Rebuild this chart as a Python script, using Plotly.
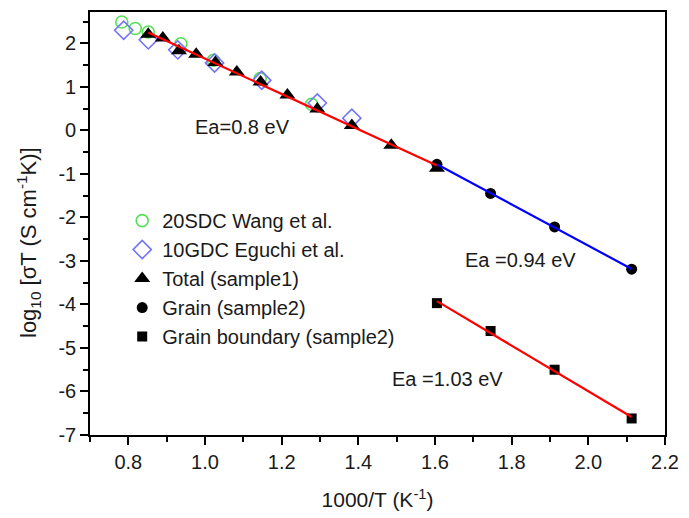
import numpy as np
import plotly.graph_objects as go

# Literature data
wang_x = [0.783, 0.818, 0.852, 0.937, 1.022, 1.144, 1.278]
wang_y = [2.49, 2.34, 2.26, 1.99, 1.61, 1.19, 0.60]
eguchi_x = [0.788, 0.852, 0.929, 1.025, 1.148, 1.293, 1.383]
eguchi_y = [2.30, 2.08, 1.85, 1.55, 1.15, 0.63, 0.28]

# Total conductivity, sample 1
total_x = [0.852, 0.890, 0.932, 0.977, 1.027, 1.083, 1.145, 1.215, 1.293, 1.383, 1.486, 1.605]
total_y = [2.21, 2.12, 1.83, 1.75, 1.56, 1.34, 1.11, 0.81, 0.49, 0.11, -0.34, -0.87]

# Grain and grain boundary, sample 2
s2_x = [1.605, 1.745, 1.912, 2.113]
grain_y = [-0.78, -1.45, -2.22, -3.19]
gb_y = [-3.97, -4.61, -5.50, -6.62]

# Axis tick values and labels (plain hyphen minus)
y_ticks = [-7, -6, -5, -4, -3, -2, -1, 0, 1, 2]
y_ticktext = ["-7", "-6", "-5", "-4", "-3", "-2", "-1", "0", "1", "2"]

FONT = "Liberation Sans, Arial, sans-serif"
TXT = "#1a1a1a"

fig = go.Figure()

fig.add_trace(go.Scatter(
    x=wang_x, y=wang_y, mode="markers", name="20SDC Wang et al.",
    marker=dict(symbol="circle-open", size=12, color="#55e055", line=dict(width=1.6))))
fig.add_trace(go.Scatter(
    x=eguchi_x, y=eguchi_y, mode="markers", name="10GDC Eguchi et al.",
    marker=dict(symbol="diamond-open", size=14, color="#7575f5", line=dict(width=1.6))))
fig.add_trace(go.Scatter(
    x=total_x, y=total_y, mode="markers", name="Total (sample1)",
    marker=dict(symbol="triangle-up", size=14, color="black")))
fig.add_trace(go.Scatter(
    x=s2_x, y=grain_y, mode="markers", name="Grain (sample2)",
    marker=dict(symbol="circle", size=11, color="black")))
fig.add_trace(go.Scatter(
    x=s2_x, y=gb_y, mode="markers", name="Grain boundary (sample2)",
    marker=dict(symbol="square", size=10, color="black")))


def arrhenius_line(xs, ys, color):
    slope, icpt = np.polyfit(xs, ys, 1)
    xe = np.array([min(xs), max(xs)])
    fig.add_trace(go.Scatter(
        x=xe, y=slope * xe + icpt, mode="lines", showlegend=False,
        line=dict(color=color, width=2.2), hoverinfo="skip"))


arrhenius_line(total_x, total_y, "#ff0000")
arrhenius_line(s2_x, grain_y, "#0000ff")
arrhenius_line(s2_x, gb_y, "#ff0000")

labels = [
    (1.098, 0.07, "Ea=0.8 eV"),
    (1.823, -2.99, "Ea =0.94 eV"),
    (1.632, -5.71, "Ea =1.03 eV"),
]
for lx, ly, lt in labels:
    fig.add_annotation(x=lx, y=ly, text=lt, showarrow=False,
                       font=dict(family=FONT, size=20, color=TXT))

fig.add_annotation(
    xref="paper", yref="paper", x=-0.107, y=0.455, xanchor="center", yanchor="middle",
    text="log<sub>10</sub> [σT (S cm<sup>-1</sup>K)]", textangle=-90, showarrow=False,
    font=dict(family=FONT, size=22, color=TXT))

axis_common = dict(
    showline=True, linecolor="black", linewidth=1.6, mirror=True,
    ticks="outside", ticklen=8, tickwidth=1.6, tickcolor="black",
    showgrid=False, zeroline=False,
    tickfont=dict(family=FONT, size=20, color=TXT),
)

fig.update_xaxes(
    range=[0.7, 2.2], dtick=0.2, tick0=0.8, tickformat=".1f",
    minor=dict(dtick=0.1, ticks="outside", ticklen=5, tickwidth=1.6, tickcolor="black"),
    title=dict(text="1000/T (K<sup>-1</sup>)", font=dict(family=FONT, size=21, color=TXT), standoff=21),
    **axis_common)
fig.update_yaxes(
    range=[-7, 2.72], tickmode="array", tickvals=y_ticks, ticktext=y_ticktext,
    minor=dict(dtick=0.5, tick0=0, ticks="outside", ticklen=5, tickwidth=1.6, tickcolor="black"),
    **axis_common)

fig.update_layout(
    width=689, height=518,
    margin=dict(l=90, r=15, t=10, b=79),
    paper_bgcolor="white", plot_bgcolor="white",
    font=dict(family=FONT, size=20, color=TXT),
    legend=dict(x=0.056, y=0.553, xanchor="left", yanchor="top",
                bgcolor="rgba(0,0,0,0)", borderwidth=0,
                font=dict(family=FONT, size=20, color=TXT),
                itemwidth=30, tracegroupgap=0),
)

fig.write_html("out.html")
